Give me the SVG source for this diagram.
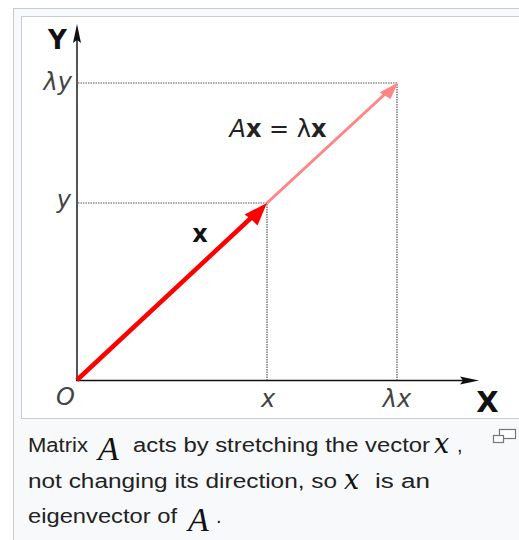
<svg xmlns="http://www.w3.org/2000/svg" width="519" height="540" viewBox="0 0 519 540">
<style>
.frame{fill:#f8f9fa;stroke:#c8ccd1;stroke-width:1}
.img{fill:#ffffff;stroke:#c8ccd1;stroke-width:1}
.dot{stroke:#555;stroke-width:1.2;stroke-dasharray:1.5,1;fill:none}
.lbl{font-family:"DejaVu Sans",sans-serif;font-style:italic;font-size:24px;fill:#444}
.bold{font-family:"DejaVu Sans",sans-serif;font-weight:bold;fill:#111}
.cap{font-family:"Liberation Sans",Arial,sans-serif;font-size:20px;fill:#222}
.math{font-family:"Liberation Serif","Times New Roman",serif;font-style:italic;fill:#111}
.mx{font-family:"DejaVu Serif",serif;font-style:italic;font-size:27px;fill:#111}
</style>
<rect width="519" height="540" fill="#ffffff"/>
<rect class="frame" x="13.5" y="8.5" width="530" height="545"/>
<rect class="img" x="21.5" y="16.5" width="520" height="402"/>
<g id="axes">
<line x1="77" y1="381" x2="77" y2="38" stroke="#555" stroke-width="2"/>
<path d="M77,24 L81,43 L77,40 L73,43 Z" fill="#111"/>
<line x1="76" y1="380.5" x2="466" y2="380.5" stroke="#111" stroke-width="1.6"/>
<path d="M479,380.5 L460,376.5 L463,380.5 L460,384.5 Z" fill="#111"/>
</g>
<g id="guides">
<path class="dot" d="M78,83 H397 V380"/>
<path class="dot" d="M78,203 H267 V380"/>
</g>
<g id="connectors">
<line x1="267" y1="203" x2="385" y2="94" stroke="#ff8585" stroke-width="3"/>
<path d="M398,82.5 L379.5,92.5 L384,95 L390.5,99 Z" fill="#ff8585"/>
<line x1="77" y1="380" x2="252" y2="217" stroke="#ff0000" stroke-width="4.5"/>
<path d="M267,203 L244.5,214.5 L251,219 L257.5,225.5 Z" fill="#ff0000"/>
</g>
<g id="labels">
<text class="bold" x="57.5" y="49" font-size="26" text-anchor="middle">Y</text>
<text class="bold" x="487.5" y="412" font-size="29" text-anchor="middle">X</text>
<text class="lbl" x="72" y="90" text-anchor="end">λy</text>
<text class="lbl" x="71" y="208" text-anchor="end">y</text>
<text class="lbl" x="56" y="405">O</text>
<text class="lbl" x="268" y="407" text-anchor="middle">x</text>
<text class="lbl" x="397" y="407" text-anchor="middle">λx</text>
<text x="278" y="137" text-anchor="middle" font-family="DejaVu Sans,sans-serif" font-size="24" fill="#222"><tspan font-style="italic">A</tspan><tspan font-weight="bold">x</tspan> = λ<tspan font-weight="bold">x</tspan></text>
<text class="bold" x="200" y="242" font-size="24" text-anchor="middle">x</text>
</g>
<g id="caption">
<text class="cap" x="28" y="452" textLength="60" lengthAdjust="spacingAndGlyphs">Matrix</text>
<text class="math" x="98" y="460" font-size="34">A</text>
<text class="cap" x="133" y="452" textLength="297" lengthAdjust="spacingAndGlyphs">acts by stretching the vector</text>
<text class="mx" x="434" y="453">x</text>
<text class="cap" x="457" y="452">,</text>
<text class="cap" x="28" y="488" textLength="309" lengthAdjust="spacingAndGlyphs">not changing its direction, so</text>
<text class="mx" x="344" y="489">x</text>
<text class="cap" x="375" y="488" textLength="55" lengthAdjust="spacingAndGlyphs">is an</text>
<text class="cap" x="28" y="523" textLength="149" lengthAdjust="spacingAndGlyphs">eigenvector of</text>
<text class="math" x="188" y="531" font-size="34">A</text>
<text class="cap" x="216" y="523">.</text>
</g>
<g id="icon" fill="#fff" stroke="#777" stroke-width="1.2">
<rect x="499.5" y="429.5" width="16" height="9"/>
<rect x="493.5" y="435.5" width="10" height="7"/>
</g>
</svg>
